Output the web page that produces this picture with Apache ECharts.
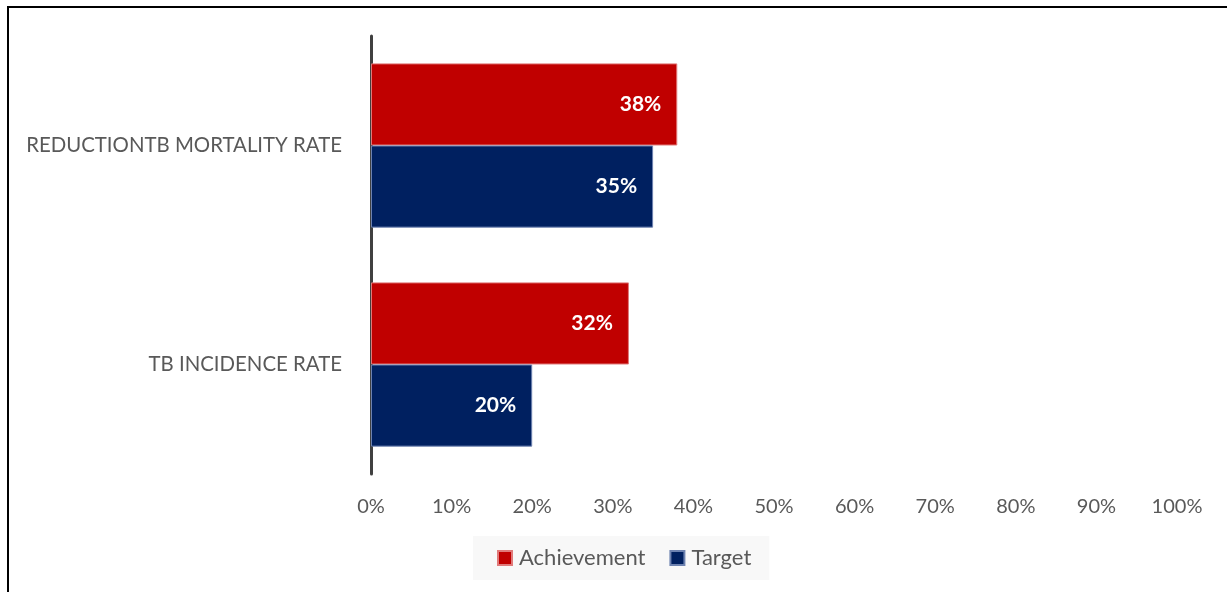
<!DOCTYPE html>
<html>
<head>
<meta charset="utf-8">
<script src="https://cdn.jsdelivr.net/npm/echarts@6/dist/echarts.min.js"></script>
<style>
  html, body { margin: 0; padding: 0; background: #fff; }
  #frame { position: absolute; left: 7px; top: 6px; width: 1220px; height: 586px;
           border-left: 2px solid #000; border-top: 2px solid #000; box-sizing: border-box; }
  #chart { position: absolute; left: 0; top: 0; width: 1227px; height: 592px; }
</style>
</head>
<body>
<div id="frame"></div>
<div id="chart"></div>
<script>
// indicators, top to bottom
const categories = ['REDUCTIONTB MORTALITY RATE', 'TB INCIDENCE RATE'];
const achievement = [38, 32];
const target = [35, 20];
const xTicks = [0, 10, 20, 30, 40, 50, 60, 70, 80, 90, 100];

const font = 'Lato, "Open Sans", sans-serif';

const chart = echarts.init(document.getElementById('chart'));

const label = {
  show: true,
  position: 'insideRight',
  distance: 16,
  color: '#fff',
  fontFamily: font,
  fontWeight: 'bold',
  fontSize: 21,
  formatter: p => p.value + '%',
};

chart.setOption({
  animation: false,
  textStyle: { fontFamily: font },
  grid: { left: 371, right: 50, top: 36, bottom: 118, containLabel: false },
  xAxis: {
    type: 'value',
    min: xTicks[0],
    max: xTicks[xTicks.length - 1],
    interval: 10,
    axisLine: { show: false },
    axisTick: { show: false },
    splitLine: { show: false },
    axisLabel: {
      color: '#595959',
      fontSize: 20,
      margin: 23,
      formatter: v => v + '%',
    },
  },
  yAxis: {
    type: 'category',
    data: categories,
    inverse: true,
    axisLine: { show: true, lineStyle: { color: '#404040', width: 3 } },
    axisTick: { show: false },
    axisLabel: { color: '#595959', fontSize: 20.4, margin: 29 },
  },
  legend: {
    left: 473,
    top: 536,
    padding: [11, 18, 11, 24],
    backgroundColor: '#f8f8f8',
    itemWidth: 14,
    itemHeight: 14,
    itemGap: 24,
    icon: 'rect',
    textStyle: { color: '#595959', fontSize: 22, fontFamily: font, padding: [0, 0, 0, 2] },
    data: ['Achievement', 'Target'],
  },
  series: [
    {
      name: 'Achievement',
      type: 'bar',
      data: achievement,
      barGap: '0%',
      barCategoryGap: '25%',
      itemStyle: { color: '#C00000', borderColor: '#e07a7a', borderWidth: 1 },
      label: label,
    },
    {
      name: 'Target',
      type: 'bar',
      data: target,
      itemStyle: { color: '#002060', borderColor: '#6d82b0', borderWidth: 1 },
      label: label,
    },
  ],
});
</script>
</body>
</html>
